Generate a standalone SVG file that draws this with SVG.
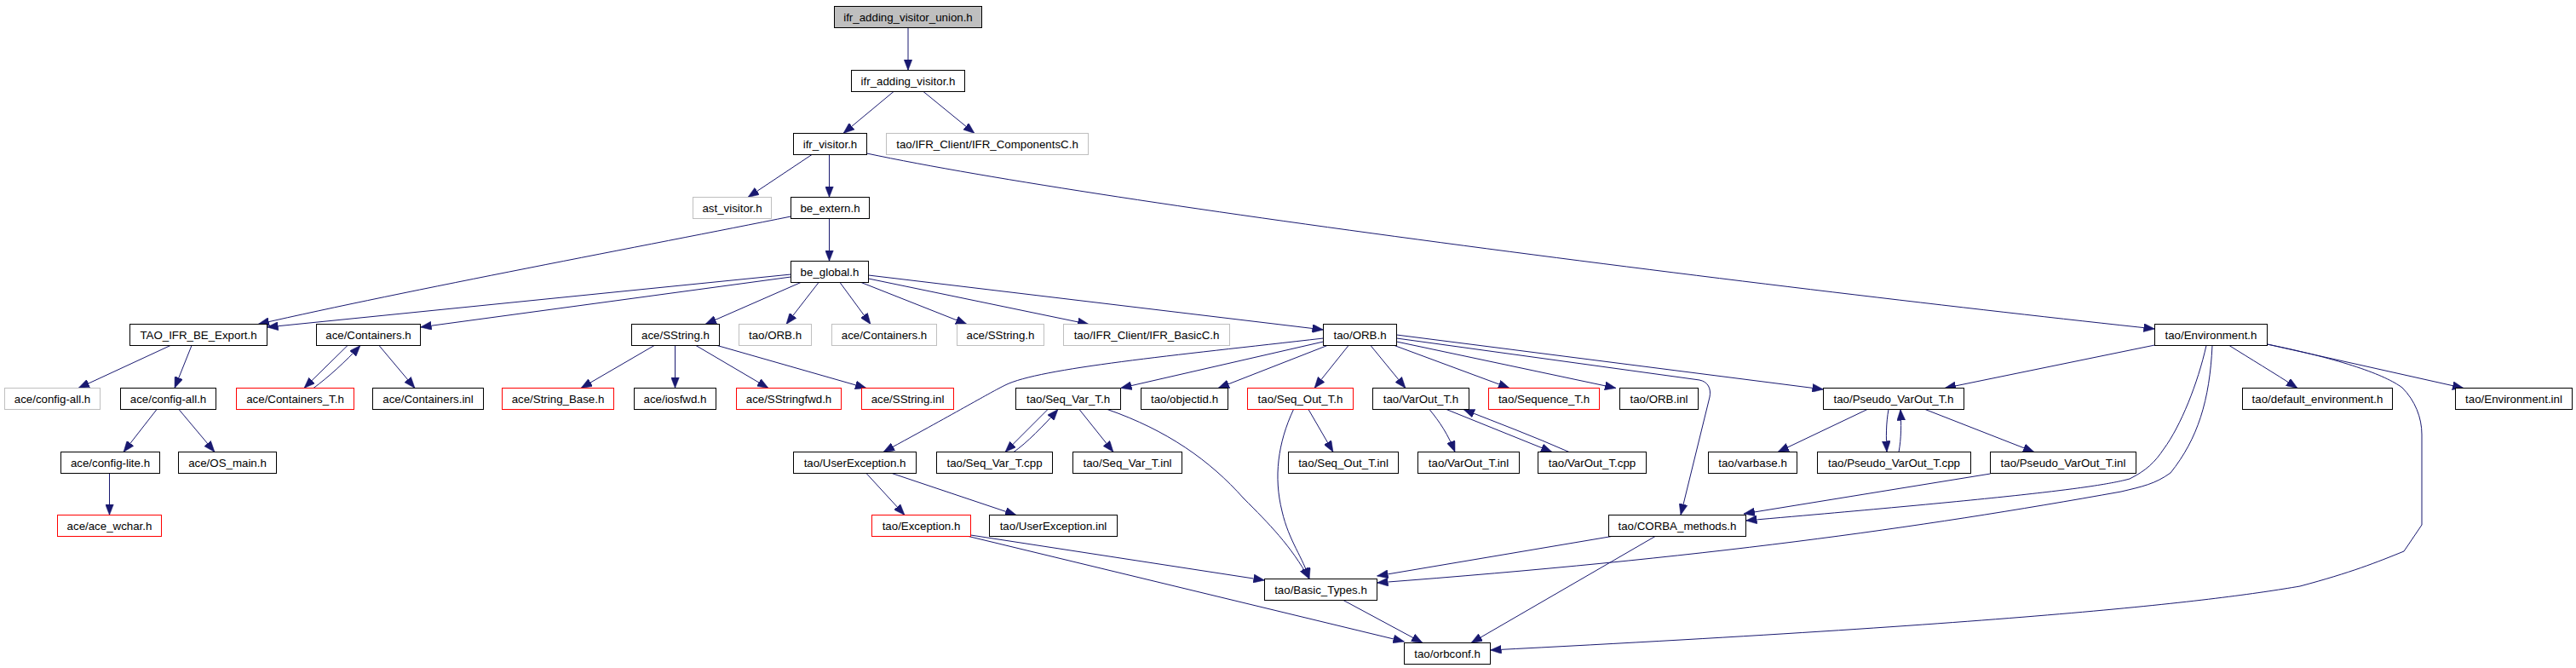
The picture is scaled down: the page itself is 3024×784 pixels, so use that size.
<svg xmlns="http://www.w3.org/2000/svg" width="3024" height="784" viewBox="0 0 3024 784">
<style>
.node rect{fill:#ffffff;stroke:#000000;stroke-width:1}
.node.gray rect{stroke:#bfbfbf}
.node.red rect{stroke:#ff0000}
.node.root rect{fill:#bfbfbf}
.node text{font-family:"Liberation Sans",Arial,sans-serif;font-size:13.3px;fill:#000000;text-anchor:middle}
#edges path{fill:none;stroke:#191970;stroke-width:1;marker-end:url(#arr)}
</style>
<defs>
<marker id="arr" markerUnits="userSpaceOnUse" viewBox="0 0 13 10" markerWidth="13" markerHeight="10" refX="13" refY="5" orient="auto">
<path d="M0,0 L13,5 L0,10 z" fill="#191970" stroke="#191970" stroke-width="0.5"/>
</marker>
</defs>
<rect x="0" y="0" width="3024" height="784" fill="#ffffff"/>
<g id="edges">
<path d="M1066,32.5 L1066,82.5"/>
<path d="M1049,107.5 L990,156.5"/>
<path d="M1084,107.5 L1144,156.5"/>
<path d="M953,181.5 L878,231.5"/>
<path d="M973.5,181.5 L973.5,231.5"/>
<path d="M1017.5,180 C1300,240 2100,340 2529.5,386"/>
<path d="M973.5,256.5 L973.5,306.5"/>
<path d="M928.5,254 C760,288 480,340 303,380.5"/>
<path d="M928.5,322 L313.5,384"/>
<path d="M928.5,325 L493.5,384"/>
<path d="M940,331.5 L828,380.5"/>
<path d="M961,331.5 L923,380.5"/>
<path d="M986,331.5 L1022,380.5"/>
<path d="M1011,331.5 L1135,380.5"/>
<path d="M1019.5,327 L1278,380.5"/>
<path d="M1019.5,323 L1553.5,387"/>
<path d="M200,405.5 L92,455.5"/>
<path d="M225,405.5 L205,455.5"/>
<path d="M408,405.5 L357,455.5"/>
<path d="M368,455.5 C385,443 405,425 423,405.5"/>
<path d="M445,405.5 L487,455.5"/>
<path d="M768,405.5 L682,455.5"/>
<path d="M792.5,405.5 L792.5,455.5"/>
<path d="M817,405.5 L902,455.5"/>
<path d="M842,405.5 L1017,455.5"/>
<path d="M184,480.5 L145,530.5"/>
<path d="M210,480.5 L252,530.5"/>
<path d="M128.5,555.5 L128.5,604.5"/>
<path d="M1553.5,397 C1380,417 1220,432 1180,452 C1160,462 1130,480 1037,530.5"/>
<path d="M1553.5,401 L1315.5,455.5"/>
<path d="M1558,405.5 L1430,455.5"/>
<path d="M1583,405.5 L1543,455.5"/>
<path d="M1609,405.5 L1650,455.5"/>
<path d="M1637,405.5 L1772,455.5"/>
<path d="M1639.5,401 L1897,455.5"/>
<path d="M1639.5,397 L1995,446 C2005,448 2009,456 2007,466 L1973,604.5"/>
<path d="M1639.5,393 L2140.5,457"/>
<path d="M1230,480.5 L1180,530.5"/>
<path d="M1190,530.5 C1205,520 1225,500 1242,480.5"/>
<path d="M1267,480.5 L1307,530.5"/>
<path d="M1300,480.5 C1370,505 1420,540 1460,585 C1490,615 1515,640 1537,679.5"/>
<path d="M1518.5,480.5 C1500,520 1495,560 1505,600 C1513,635 1530,655 1537,679.5"/>
<path d="M1536,480.5 L1565,530.5"/>
<path d="M1678,480.5 C1690,495 1700,510 1708,530.5"/>
<path d="M1698,480.5 L1822,530.5"/>
<path d="M1842,530.5 C1800,512 1760,497 1718,480.5"/>
<path d="M1017,555.5 L1062,604.5"/>
<path d="M1047,555.5 L1193,604.5"/>
<path d="M1139.5,628 L1484.5,681"/>
<path d="M1137,629.5 L1648.5,753"/>
<path d="M1577,704.5 L1670,754.5"/>
<path d="M1892,629.5 L1616.5,676"/>
<path d="M1943,629.5 L1727,754.5"/>
<path d="M2597,405.5 C2594,470 2580,515 2548,555 C2530,568 2515,571 2490,577 C2250,620 2000,655 1616.5,684"/>
<path d="M2590,405.5 C2580,450 2560,500 2540,527 C2530,542 2520,552 2500,562 C2460,573 2350,585 2049.5,611"/>
<path d="M2336.5,556 L2047,603"/>
<path d="M2661.5,404 C2750,422 2800,440 2820,455 C2835,470 2843,490 2843,510 L2843,616 L2822,647 C2790,660 2760,672 2700,688 C2600,705 2400,730 1749.5,763"/>
<path d="M2661.5,404 L2892,455.5"/>
<path d="M2617,405.5 C2640,420 2670,438 2697,455.5"/>
<path d="M2529.5,405 L2283,455.5"/>
<path d="M2192,480.5 L2087,530.5"/>
<path d="M2217,480.5 C2214,497 2214,513 2215,530.5"/>
<path d="M2229,530.5 C2232,515 2232,497 2231,480.5"/>
<path d="M2260,480.5 L2388,530.5"/>
</g>
<g id="n0" class="node root"><rect x="979.5" y="7.5" width="173" height="25"/><text x="1066" y="24.5">ifr_adding_visitor_union.h</text></g>
<g id="n1" class="node"><rect x="999.5" y="82.5" width="133" height="25"/><text x="1066" y="99.5">ifr_adding_visitor.h</text></g>
<g id="n2" class="node"><rect x="931.5" y="156.5" width="86" height="25"/><text x="974.5" y="173.5">ifr_visitor.h</text></g>
<g id="n3" class="node gray"><rect x="1040.5" y="156.5" width="237" height="25"/><text x="1159" y="173.5">tao/IFR_Client/IFR_ComponentsC.h</text></g>
<g id="n4" class="node gray"><rect x="813.5" y="231.5" width="92" height="25"/><text x="859.5" y="248.5">ast_visitor.h</text></g>
<g id="n5" class="node"><rect x="928.5" y="231.5" width="92" height="25"/><text x="974.5" y="248.5">be_extern.h</text></g>
<g id="n6" class="node"><rect x="928.5" y="306.5" width="91" height="25"/><text x="974" y="323.5">be_global.h</text></g>
<g id="n7" class="node"><rect x="152.5" y="380.5" width="161" height="25"/><text x="233" y="397.5">TAO_IFR_BE_Export.h</text></g>
<g id="n8" class="node"><rect x="371.5" y="380.5" width="122" height="25"/><text x="432.5" y="397.5">ace/Containers.h</text></g>
<g id="n9" class="node"><rect x="741.5" y="380.5" width="103" height="25"/><text x="793" y="397.5">ace/SString.h</text></g>
<g id="n10" class="node gray"><rect x="867.5" y="380.5" width="85" height="25"/><text x="910" y="397.5">tao/ORB.h</text></g>
<g id="n11" class="node gray"><rect x="976.5" y="380.5" width="123" height="25"/><text x="1038" y="397.5">ace/Containers.h</text></g>
<g id="n12" class="node gray"><rect x="1123.5" y="380.5" width="102" height="25"/><text x="1174.5" y="397.5">ace/SString.h</text></g>
<g id="n13" class="node gray"><rect x="1248.5" y="380.5" width="195" height="25"/><text x="1346" y="397.5">tao/IFR_Client/IFR_BasicC.h</text></g>
<g id="n14" class="node"><rect x="1553.5" y="380.5" width="86" height="25"/><text x="1596.5" y="397.5">tao/ORB.h</text></g>
<g id="n15" class="node"><rect x="2529.5" y="380.5" width="132" height="25"/><text x="2595.5" y="397.5">tao/Environment.h</text></g>
<g id="n16" class="node gray"><rect x="5.5" y="455.5" width="112" height="25"/><text x="61.5" y="472.5">ace/config-all.h</text></g>
<g id="n17" class="node"><rect x="141.5" y="455.5" width="112" height="25"/><text x="197.5" y="472.5">ace/config-all.h</text></g>
<g id="n18" class="node red"><rect x="277.5" y="455.5" width="138" height="25"/><text x="346.5" y="472.5">ace/Containers_T.h</text></g>
<g id="n19" class="node"><rect x="437.5" y="455.5" width="130" height="25"/><text x="502.5" y="472.5">ace/Containers.inl</text></g>
<g id="n20" class="node red"><rect x="589.5" y="455.5" width="131" height="25"/><text x="655" y="472.5">ace/String_Base.h</text></g>
<g id="n21" class="node"><rect x="744.5" y="455.5" width="96" height="25"/><text x="792.5" y="472.5">ace/iosfwd.h</text></g>
<g id="n22" class="node red"><rect x="864.5" y="455.5" width="123" height="25"/><text x="926" y="472.5">ace/SStringfwd.h</text></g>
<g id="n23" class="node red"><rect x="1011.5" y="455.5" width="108" height="25"/><text x="1065.5" y="472.5">ace/SString.inl</text></g>
<g id="n24" class="node"><rect x="1192.5" y="455.5" width="123" height="25"/><text x="1254" y="472.5">tao/Seq_Var_T.h</text></g>
<g id="n25" class="node"><rect x="1339.5" y="455.5" width="102" height="25"/><text x="1390.5" y="472.5">tao/objectid.h</text></g>
<g id="n26" class="node red"><rect x="1464.5" y="455.5" width="124" height="25"/><text x="1526.5" y="472.5">tao/Seq_Out_T.h</text></g>
<g id="n27" class="node"><rect x="1611.5" y="455.5" width="113" height="25"/><text x="1668" y="472.5">tao/VarOut_T.h</text></g>
<g id="n28" class="node red"><rect x="1747.5" y="455.5" width="130" height="25"/><text x="1812.5" y="472.5">tao/Sequence_T.h</text></g>
<g id="n29" class="node"><rect x="1901.5" y="455.5" width="92" height="25"/><text x="1947.5" y="472.5">tao/ORB.inl</text></g>
<g id="n30" class="node"><rect x="2140.5" y="455.5" width="165" height="25"/><text x="2223" y="472.5">tao/Pseudo_VarOut_T.h</text></g>
<g id="n31" class="node"><rect x="2632.5" y="455.5" width="176" height="25"/><text x="2720.5" y="472.5">tao/default_environment.h</text></g>
<g id="n32" class="node"><rect x="2882.5" y="455.5" width="137" height="25"/><text x="2951" y="472.5">tao/Environment.inl</text></g>
<g id="n33" class="node"><rect x="71.5" y="530.5" width="116" height="25"/><text x="129.5" y="547.5">ace/config-lite.h</text></g>
<g id="n34" class="node"><rect x="209.5" y="530.5" width="115" height="25"/><text x="267" y="547.5">ace/OS_main.h</text></g>
<g id="n35" class="node"><rect x="931.5" y="530.5" width="144" height="25"/><text x="1003.5" y="547.5">tao/UserException.h</text></g>
<g id="n36" class="node"><rect x="1099.5" y="530.5" width="136" height="25"/><text x="1167.5" y="547.5">tao/Seq_Var_T.cpp</text></g>
<g id="n37" class="node"><rect x="1259.5" y="530.5" width="128" height="25"/><text x="1323.5" y="547.5">tao/Seq_Var_T.inl</text></g>
<g id="n38" class="node"><rect x="1512.5" y="530.5" width="129" height="25"/><text x="1577" y="547.5">tao/Seq_Out_T.inl</text></g>
<g id="n39" class="node"><rect x="1664.5" y="530.5" width="119" height="25"/><text x="1724" y="547.5">tao/VarOut_T.inl</text></g>
<g id="n40" class="node"><rect x="1805.5" y="530.5" width="127" height="25"/><text x="1869" y="547.5">tao/VarOut_T.cpp</text></g>
<g id="n41" class="node"><rect x="2005.5" y="530.5" width="104" height="25"/><text x="2057.5" y="547.5">tao/varbase.h</text></g>
<g id="n42" class="node"><rect x="2133.5" y="530.5" width="180" height="25"/><text x="2223.5" y="547.5">tao/Pseudo_VarOut_T.cpp</text></g>
<g id="n43" class="node"><rect x="2336.5" y="530.5" width="171" height="25"/><text x="2422" y="547.5">tao/Pseudo_VarOut_T.inl</text></g>
<g id="n44" class="node red"><rect x="67.5" y="604.5" width="122" height="25"/><text x="128.5" y="621.5">ace/ace_wchar.h</text></g>
<g id="n45" class="node red"><rect x="1023.5" y="604.5" width="116" height="25"/><text x="1081.5" y="621.5">tao/Exception.h</text></g>
<g id="n46" class="node"><rect x="1161.5" y="604.5" width="150" height="25"/><text x="1236.5" y="621.5">tao/UserException.inl</text></g>
<g id="n47" class="node"><rect x="1888.5" y="604.5" width="161" height="25"/><text x="1969" y="621.5">tao/CORBA_methods.h</text></g>
<g id="n48" class="node"><rect x="1484.5" y="679.5" width="132" height="25"/><text x="1550.5" y="696.5">tao/Basic_Types.h</text></g>
<g id="n49" class="node"><rect x="1648.5" y="754.5" width="101" height="25"/><text x="1699" y="771.5">tao/orbconf.h</text></g>
</svg>
